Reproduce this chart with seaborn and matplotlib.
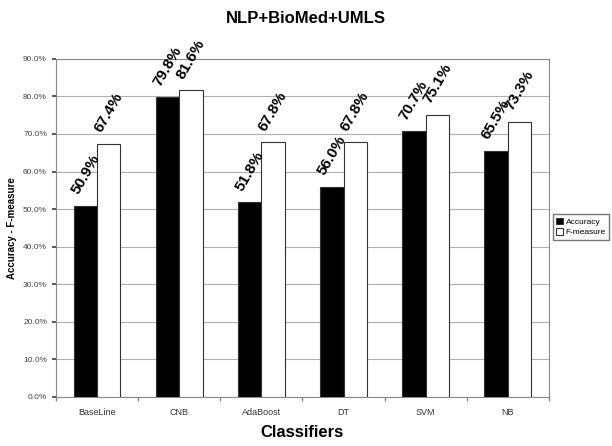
import matplotlib
matplotlib.use("Agg")
import matplotlib.pyplot as plt
import seaborn as sns
import pandas as pd
from matplotlib.ticker import FuncFormatter, FixedLocator

classifiers = ["BaseLine", "CNB", "AdaBoost", "DT", "SVM", "NB"]
accuracy = [50.9, 79.8, 51.8, 56.0, 70.7, 65.5]
fmeasure = [67.4, 81.6, 67.8, 67.8, 75.1, 73.3]
series = ["Accuracy", "F-measure"]

df = pd.DataFrame({
    "Classifier": classifiers * 2,
    "Metric": [series[0]] * len(classifiers) + [series[1]] * len(classifiers),
    "Value": accuracy + fmeasure,
})

sns.set_theme(style="white")
plt.rcParams["font.family"] = ["Liberation Sans", "DejaVu Sans"]
plt.rcParams["text.color"] = "black"
plt.rcParams["axes.labelcolor"] = "black"

fig = plt.figure(figsize=(6.12, 4.46), dpi=100)
ax = fig.add_axes([0.0915, 0.110, 0.8055, 0.758])

sns.barplot(data=df, x="Classifier", y="Value", hue="Metric", order=classifiers,
            hue_order=series, palette=["black", "white"], width=0.57,
            edgecolor="#333333", linewidth=0.8, ax=ax, legend=True, zorder=3)

ax.set_ylim(0, 90)
ax.set_xlim(-0.5, len(classifiers) - 0.5)
ax.yaxis.set_major_locator(FixedLocator([i * 10 for i in range(10)]))
ax.yaxis.set_major_formatter(FuncFormatter(lambda v, p: f"{v:.1f}%"))
ax.grid(axis="y", color="#b0b0b0", linewidth=0.8, zorder=0)
ax.set_axisbelow(True)
for s in ax.spines.values():
    s.set_color("#888888")
    s.set_linewidth(0.8)

ax.tick_params(axis="y", labelsize=6, colors="#444444", length=3, direction="out", left=True)
ax.tick_params(axis="x", labelsize=6.5, colors="#333333", length=0, pad=8)
ax.set_xticks(range(len(classifiers)))
ax.set_xticks([i - 0.5 for i in range(len(classifiers) + 1)], minor=True)
ax.tick_params(axis="x", which="minor", length=3, color="#888888", bottom=True, direction="out")

ax.set_xlabel("Classifiers", fontsize=12, fontweight="bold", labelpad=6)
ax.set_ylabel("Accuracy - F-measure", fontsize=7, fontweight="bold", labelpad=4)
fig.suptitle("NLP+BioMed+UMLS", fontsize=12, fontweight="bold", y=0.975)

for cont in ax.containers:
    for bar in cont:
        h = bar.get_height()
        ax.text(bar.get_x() + bar.get_width() / 2, h + 2.4, f"{h:.1f}%", rotation=60,
                ha="center", va="bottom", fontsize=11, fontweight="bold",
                color="black", zorder=5, clip_on=False)

handles, labels = ax.get_legend_handles_labels()
ax.legend(handles, labels, loc="center left", bbox_to_anchor=(553 / 612, 1 - 227 / 446),
          bbox_transform=fig.transFigure, fontsize=6, frameon=True, fancybox=False,
          edgecolor="#555555", handlelength=0.8, handleheight=0.8, handletextpad=0.3,
          borderpad=0.4, labelspacing=0.3, borderaxespad=0)

fig.savefig("out.png", dpi=100)
